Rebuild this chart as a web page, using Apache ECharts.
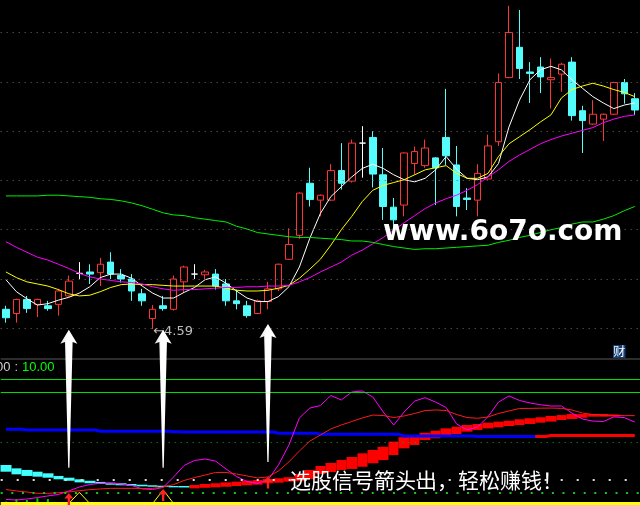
<!DOCTYPE html>
<html><head><meta charset="utf-8">
<script src="https://cdn.jsdelivr.net/npm/echarts@6/dist/echarts.min.js"></script>
<style>html,body{margin:0;padding:0;background:#000;}#c{width:640px;height:505px;}</style>
</head><body><div id="c"></div>
<script>
// ---- main panel (price) ----
const categories = Array.from({length: 61}, (_, i) => String(i + 1));
const open  = [4.87,4.81,5.01,4.94,4.92,4.94,5.06,5.38,5.40,5.39,5.54,5.35,5.30,5.09,4.74,4.92,4.87,5.26,5.37,5.36,5.37,5.23,4.99,4.92,4.81,4.98,5.16,5.58,5.92,6.66,6.42,6.42,6.84,6.69,7.23,7.31,6.78,6.32,6.35,6.94,6.91,7.02,7.31,6.92,6.45,6.42,6.72,7.25,8.16,8.59,8.24,8.31,8.13,8.21,8.38,7.69,7.50,7.57,7.64,8.09,7.86];
const close = [4.75,5.01,4.88,5.01,4.88,5.13,5.27,5.38,5.37,5.51,5.37,5.30,5.13,4.99,4.87,4.88,5.30,5.47,5.37,5.40,5.20,4.99,4.95,4.78,4.99,5.16,5.51,5.79,6.52,6.43,6.49,6.84,6.66,7.23,7.23,6.79,6.33,6.14,7.09,7.11,7.16,6.88,7.05,6.33,6.43,6.80,7.19,8.09,8.80,8.29,8.22,8.17,8.16,8.35,7.62,7.55,7.64,7.64,8.09,7.93,7.70];
const low   = [4.68,4.68,4.82,4.76,4.85,4.78,5.05,5.30,5.23,5.20,5.30,5.25,4.99,4.92,4.59,4.85,4.85,5.11,5.30,5.30,5.15,4.92,4.87,4.75,4.80,4.87,5.13,5.57,5.87,6.33,6.19,6.41,6.57,6.67,6.74,6.60,6.14,6.00,6.19,6.78,6.88,6.35,6.92,6.19,6.28,6.19,6.71,7.19,8.15,8.14,7.80,7.94,7.72,7.96,7.55,7.09,7.49,7.26,7.63,7.79,7.63];
const high  = [4.92,5.02,5.06,5.02,4.99,5.16,5.35,5.54,5.51,5.60,5.68,5.44,5.37,5.16,4.93,5.06,5.35,5.49,5.51,5.43,5.44,5.30,5.15,4.99,5.01,5.26,5.52,6.02,6.53,6.88,6.50,6.93,7.23,7.28,7.47,7.40,7.16,6.45,7.10,7.18,7.28,7.03,8.00,7.19,6.59,6.93,7.35,8.22,9.18,9.12,8.38,8.45,8.43,8.37,8.45,7.76,7.84,7.65,8.10,8.14,7.94];
const ma5   = [5.29,5.12,5.02,4.93,4.95,5.00,5.04,5.10,5.19,5.32,5.37,5.37,5.31,5.20,5.10,5.03,5.03,5.11,5.18,5.29,5.33,5.24,5.13,5.03,4.98,4.98,5.05,5.19,5.47,5.88,6.23,6.47,6.61,6.75,6.87,6.93,6.87,6.78,6.71,6.68,6.73,6.85,7.04,6.86,6.73,6.71,6.75,6.94,7.46,7.84,8.13,8.27,8.32,8.27,8.13,8.01,7.89,7.80,7.72,7.77,7.80];
const ma10  = [5.40,5.32,5.26,5.23,5.20,5.15,5.09,5.06,5.07,5.12,5.18,5.22,5.23,5.22,5.22,5.21,5.20,5.20,5.20,5.20,5.20,5.17,5.14,5.13,5.13,5.14,5.17,5.21,5.31,5.44,5.58,5.78,6.00,6.19,6.40,6.56,6.63,6.67,6.71,6.78,6.85,6.88,6.91,6.80,6.73,6.73,6.80,7.04,7.22,7.32,7.42,7.53,7.63,7.87,7.99,8.04,8.08,8.04,7.99,7.95,7.89];
const ma20  = [5.83,5.75,5.68,5.61,5.57,5.51,5.45,5.38,5.33,5.30,5.28,5.26,5.25,5.23,5.19,5.16,5.14,5.15,5.15,5.16,5.17,5.18,5.18,5.19,5.19,5.20,5.20,5.21,5.26,5.32,5.40,5.47,5.54,5.64,5.71,5.80,5.89,5.99,6.10,6.20,6.30,6.38,6.44,6.49,6.56,6.64,6.75,6.85,6.97,7.06,7.14,7.22,7.28,7.33,7.37,7.41,7.45,7.52,7.57,7.61,7.63];
const ma60  = [6.48,6.48,6.48,6.48,6.49,6.49,6.48,6.47,6.46,6.44,6.43,6.41,6.38,6.34,6.29,6.24,6.21,6.20,6.17,6.15,6.13,6.11,6.05,6.01,5.96,5.94,5.92,5.90,5.89,5.89,5.88,5.87,5.86,5.84,5.84,5.82,5.79,5.76,5.74,5.72,5.73,5.73,5.74,5.75,5.76,5.77,5.78,5.82,5.85,5.89,5.92,5.96,6.00,6.03,6.08,6.11,6.11,6.15,6.20,6.27,6.33];
const priceGridLines = [4.6, 5.3, 6.0, 6.7, 7.4, 8.1, 8.8];
// signals (candle index) and arrow tip levels
const signalIdx = [6, 15, 25];
const signalArrowTip = [4.58, 4.58, 4.66];
const signalRedArrowTip = [8.2, 11.0, 19.5];

// ---- lower panel (indicator) ----
const trendLine = [51.9,51.9,51.4,51.4,51.4,51.4,51.4,51.4,51.4,50.5,50.5,50.5,50.5,50.5,50.5,50.5,50.1,50.0,50.0,50.0,50.0,50.0,50.0,50.0,50.0,50.0,49.1,49.1,49.1,49.1,48.4,48.4,48.4,48.4,48.4,48.4,48.4,48.4,47.3,47.3,47.3,47.3,47.3,47.3,47.3,46.9,46.9,46.9,46.9,46.9,46.9,46.9,47.6,47.6,47.6,47.6,47.6,47.6,47.6,47.6,47.6];
const trendRedFrom = 51;
const bandHi = [27.4,25.1,24.0,22.8,21.7,19.9,18.7,17.6,16.6,15.8,15.3,14.9,14.4,13.9,13.5,13.2,13.0,13.0,13.7,14.4,14.9,15.5,16.0,16.6,17.1,17.8,18.3,19.0,21.2,24.0,26.7,28.8,30.8,32.9,35.4,37.7,39.9,43.4,46.4,47.9,49.5,50.9,52.5,53.6,54.8,55.5,56.4,57.1,57.7,58.7,59.4,60.1,61.0,61.6,62.3,62.3,62.3,62.3,62.0,'-','-'];
const bandLo = [22.8,21.0,19.9,19.4,18.7,17.6,16.6,15.5,14.9,14.4,13.9,13.5,13.2,12.8,12.5,12.3,12.1,12.0,11.4,11.8,12.1,12.5,13.0,13.5,13.9,14.9,15.3,16.0,16.4,17.8,21.2,22.6,24.0,24.7,26.2,28.6,30.8,34.2,38.8,41.1,44.5,45.7,47.5,48.6,50.2,51.4,52.5,53.2,54.1,54.8,55.5,56.4,57.1,58.2,58.9,59.8,60.5,60.5,60.6,'-','-'];
const bandRedFrom = 18;
const magLine = [3.8,3.4,4.1,5.1,6.2,7.2,9.6,12.3,14.0,14.9,14.9,14.4,13.4,11.0,10.6,12.0,19.2,27.1,30.5,31.5,30.1,24.7,19.5,16.1,14.9,17.1,27.4,41.1,59.6,66.4,68.1,75.0,71.9,77.4,78.1,74.0,63.7,54.8,63.7,71.2,73.5,70.5,66.8,55.5,51.4,53.4,60.5,70.5,74.7,71.6,69.9,68.7,67.8,67.8,63.0,58.9,57.5,57.2,60.3,59.9,56.8];
const redLine = [10.6,9.6,8.9,8.0,8.0,8.4,8.9,9.8,10.5,11.0,11.4,11.4,11.4,11.3,11.4,12.3,14.0,16.8,18.8,20.5,22.3,22.3,21.2,19.9,18.5,19.2,23.3,29.5,37.0,43.8,47.9,52.1,54.8,57.2,59.6,61.6,61.3,59.9,61.0,62.7,64.7,65.1,64.7,62.0,59.9,59.4,60.3,62.7,64.4,66.1,66.2,66.3,66.4,66.2,65.1,63.0,62.0,61.6,61.4,61.2,61.2];
const yellowLine = [1,1,1,1,1,1,1,8.7,1,1,1,1,1,1,1,10.3,1,1,1,1,1,1,1,1,1,1,1,1,1,1,1,1,1,1,1,1,1,1,1,1,1,1,1,1,1,1,1,1,1,1,1,1,1,1,1,1,1,1,1,1,1];
const greenBars = [2.3,4.1,3.4,4.6,4.1,'-','-','-','-','-','-','-','-','-','-','-','-','-','-','-','-','-','-','-','-','-','-','-','-','-','-','-','-','-','-','-','-','-','-','-','-','-','-','-','-','-','-','-','-','-','-','-','-','-','-','-','-','-','-','-','-'];
const levelGreenSolid = [86.1, 77.2];
const levelGreenDotWide = 42.9;
const levelWhiteDot = 17.6;
const levelGreenDot = 8.4;
const levelTop = 100;
const levelYellowBase = 1.0;

const chart = echarts.init(document.getElementById('c'), null, {renderer: 'canvas'});

const kData = open.map((o, i) => [o, close[i], low[i], high[i]]);
const bandCyan = bandHi.map((h, i) => (i < bandRedFrom && h !== '-') ? [bandLo[i], h, bandLo[i], h] : ['-', '-', '-', '-']);
const bandRed = bandHi.map((h, i) => (i >= bandRedFrom && h !== '-') ? [bandLo[i], h, bandLo[i], h] : ['-', '-', '-', '-']);
const trendBlue = trendLine.map((v, i) => i <= trendRedFrom ? v : '-');
const trendRed = trendLine.map((v, i) => i >= trendRedFrom ? v : '-');

const lineS = (name, data, color, xi, yi, extra) => Object.assign({
  name, type: 'line', data, xAxisIndex: xi, yAxisIndex: yi,
  symbol: 'none', showSymbol: false, silent: true,
  lineStyle: {color, width: 1}, itemStyle: {color}
}, extra || {});

const GRID_W = 61 * 10.59;

const option = {
  animation: false,
  backgroundColor: '#000',
  grid: [
    {left: 0.7, top: 0, width: GRID_W, height: 345},
    {left: 0.7, top: 359, width: GRID_W, height: 146},
    {left: 0.7, top: 359, width: GRID_W, height: 146}
  ],
  xAxis: [0, 1, 2].map(g => ({type: 'category', data: categories, gridIndex: g, show: false, boundaryGap: true})),
  yAxis: [
    {type: 'value', gridIndex: 0, min: 4.363, max: 9.262, show: false, splitLine: {show: false}},
    {type: 'value', gridIndex: 1, min: 0, max: 100, show: false, splitLine: {show: false}},
    {type: 'value', gridIndex: 2, min: 0, max: 100, show: false, splitLine: {show: false}}
  ],
  series: [
    {
      name: 'K', type: 'candlestick', data: kData, xAxisIndex: 0, yAxisIndex: 0,
      barWidth: 7, silent: true,
      itemStyle: {color: '#000000', color0: '#54fcfc', borderColor: '#ff3434', borderColor0: '#54fcfc', borderColorDoji: '#ffffff', borderWidth: 1},
      markPoint: {
        silent: true, symbol: 'circle', symbolSize: 1,
        itemStyle: {color: 'rgba(0,0,0,0)'},
        data: [{type: 'min', valueDim: 'lowest'}],
        label: {show: true, position: 'right', distance: 0, offset: [0, 3], color: '#bdbdbd', fontSize: 13, fontFamily: 'DejaVu Sans',
          formatter: p => '\u2190' + Number(p.value).toFixed(2)}
      }
    },
    lineS('MA5', ma5, '#ffffff', 0, 0),
    lineS('MA10', ma10, '#ffff00', 0, 0),
    lineS('MA20', ma20, '#ff00ff', 0, 0),
    lineS('MA60', ma60, '#00ee00', 0, 0, {
      markLine: {
        silent: true, symbol: 'none', label: {show: false},
        lineStyle: {color: '#6a6a6a', type: [1, 5], width: 1},
        data: priceGridLines.map(v => ({yAxis: v}))
      }
    }),
    {
      name: 'signal', type: 'scatter', xAxisIndex: 0, yAxisIndex: 0, clip: false, z: 10, silent: true,
      data: signalIdx.map((i, k) => [i, signalArrowTip[k]]),
      symbol: 'path://M8.5 0 L17 14 L12.3 12.2 L9.1 138 L7.9 138 L4.7 12.2 L0 14 Z',
      symbolSize: [17, 138], symbolOffset: [0, '50%'],
      itemStyle: {opacity: 1, color: {type: 'linear', x: 0, y: 0, x2: 1, y2: 0, colorStops: [
        {offset: 0, color: '#d8d8d8'}, {offset: 0.4, color: '#ffffff'}, {offset: 1, color: '#ffffff'}]}}
    },
    // lower panel
    lineS('trendBlue', trendBlue, '#0000ff', 1, 1, {step: 'middle', lineStyle: {color: '#0000ff', width: 3}}),
    lineS('trendRed', trendRed, '#ff0000', 1, 1, {step: 'middle', lineStyle: {color: '#ff0000', width: 3}}),
    {
      name: 'bandCyan', type: 'candlestick', data: bandCyan, xAxisIndex: 1, yAxisIndex: 1, barWidth: 11, silent: true,
      itemStyle: {color: '#40ffff', borderColor: '#40ffff', color0: '#40ffff', borderColor0: '#40ffff', borderWidth: 0}
    },
    {
      name: 'bandRed', type: 'candlestick', data: bandRed, xAxisIndex: 1, yAxisIndex: 1, barWidth: 11, silent: true,
      itemStyle: {color: '#ff0000', borderColor: '#ff0000', color0: '#ff0000', borderColor0: '#ff0000', borderWidth: 0}
    },
    lineS('mag', magLine, '#ff00ff', 1, 1, {
      markLine: {
        silent: true, symbol: 'none', label: {show: false},
        data: [
          {yAxis: levelTop, lineStyle: {color: '#3c3c3c', type: 'solid', width: 1.5}},
          {yAxis: levelGreenSolid[0], lineStyle: {color: '#00dd00', type: 'solid', width: 1}},
          {yAxis: levelGreenSolid[1], lineStyle: {color: '#00dd00', type: 'solid', width: 1}},
          {yAxis: levelGreenDotWide, lineStyle: {color: '#17a317', type: [1, 5], width: 1}},
          {yAxis: levelWhiteDot, lineStyle: {color: '#e0e0e0', type: [2, 14], width: 2}},
          {yAxis: levelGreenDot, lineStyle: {color: '#18c818', type: [2, 8.6], width: 2}}
        ]
      }
    }),
    lineS('red', redLine, '#ff1a1a', 1, 1),
    lineS('yellow', yellowLine, '#ffff00', 1, 1, {
      markLine: {
        silent: true, symbol: 'none', label: {show: false},
        lineStyle: {color: '#ffff00', type: 'solid', width: 3},
        data: [{yAxis: levelYellowBase}]
      }
    }),
    {
      name: 'redArrow', type: 'scatter', xAxisIndex: 1, yAxisIndex: 1, clip: false, z: 6, silent: true,
      data: signalIdx.map((i, k) => [i, signalRedArrowTip[k]]),
      symbol: 'path://M5 0 L10 6 L6.3 6 L6.3 13 L3.7 13 L3.7 6 L0 6 Z',
      symbolSize: [9, 12], symbolOffset: [0, '50%'],
      itemStyle: {color: '#ff2020', opacity: 1}
    },
    {
      name: 'greenBars', type: 'bar', data: greenBars, xAxisIndex: 2, yAxisIndex: 2, barWidth: 2, silent: true,
      itemStyle: {color: '#00cc00'}
    }
  ],
  graphic: [
    {type: 'text', x: -4, y: 367, z: 50, silent: true, style: {text: '00', fill: '#d0d0d0', font: '13px "Liberation Sans"', verticalAlign: 'middle'}},
    {type: 'text', x: 14.5, y: 367, z: 50, silent: true, style: {text: ':', fill: '#c8c8c8', font: '13px "Liberation Sans"', verticalAlign: 'middle'}},
    {type: 'text', x: 22, y: 367, z: 50, silent: true, style: {text: '10.00', fill: '#00ff00', font: '13px "Liberation Sans"', verticalAlign: 'middle'}},
    {type: 'rect', z: 50, silent: true, shape: {x: 613, y: 345, width: 12.5, height: 13}, style: {fill: '#143f74'}},
    {type: 'text', x: 619.2, y: 351.5, z: 51, silent: true, style: {text: '财', fill: '#ffffff', font: '12px "Noto Sans CJK SC"', align: 'center', verticalAlign: 'middle'}},
    {type: 'text', x: 383, y: 233, z: 60, silent: true, style: {text: 'www.6o7o.com', fill: '#ffffff', font: 'bold 28px "DejaVu Sans"', verticalAlign: 'middle',
      textShadowColor: '#6e6e6e', textShadowOffsetX: 1.5, textShadowOffsetY: 1.5, textShadowBlur: 0}},
    {type: 'text', x: 290, y: 480, z: 60, silent: true, style: {text: '选股信号箭头出，轻松赚钱！', fill: '#ffffff', font: '21px "Noto Sans CJK SC"', verticalAlign: 'middle',
      textShadowColor: '#3a4a7a', textShadowOffsetX: 1, textShadowOffsetY: 1, textShadowBlur: 0}}
  ]
};
chart.setOption(option);
</script>
</body></html>
